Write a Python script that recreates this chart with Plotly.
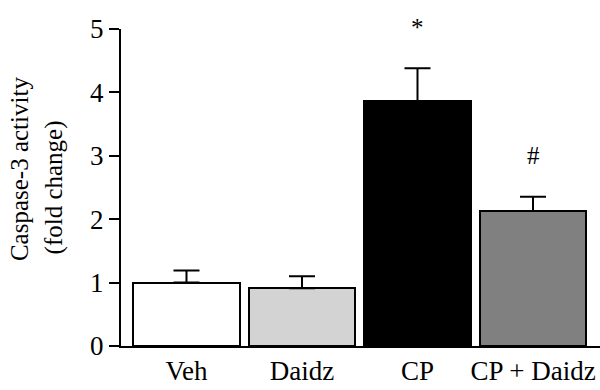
import plotly.graph_objects as go

categories = ["Veh", "Daidz", "CP", "CP + Daidz"]
means = [1.00, 0.91, 3.86, 2.13]
errors = [0.19, 0.19, 0.52, 0.225]
sig_marks = ["", "", "*", "#"]
y_ticks = [0, 1, 2, 3, 4, 5]

bar_colors = ["#ffffff", "#d3d3d3", "#000000", "#808080"]
FONT = "Liberation Serif"

xs = list(range(len(categories)))

fig = go.Figure()
fig.add_trace(go.Bar(
    x=xs, y=means, width=0.925,
    marker=dict(color=bar_colors, line=dict(color="black", width=2)),
    error_y=dict(type="data", symmetric=False, array=errors,
                 arrayminus=[0] * len(errors), color="black",
                 thickness=2, width=13),
    showlegend=False,
))

annotations = []
for x, m, e, s in zip(xs, means, errors, sig_marks):
    if s:
        annotations.append(dict(x=x, y=m + e, xref="x", yref="y", text=s,
                                showarrow=False, yanchor="middle", yshift=41,
                                font=dict(family=FONT, size=25, color="black")))

annotations.append(dict(x=-0.213, y=0.558, xref="paper", yref="paper",
                        text="Caspase-3 activity", textangle=-90, showarrow=False,
                        xanchor="center", yanchor="middle",
                        font=dict(family=FONT, size=25, color="black")))
annotations.append(dict(x=-0.140, y=0.50, xref="paper", yref="paper",
                        text="(fold change)", textangle=-90, showarrow=False,
                        xanchor="center", yanchor="middle",
                        font=dict(family=FONT, size=25, color="black")))

fig.update_layout(
    width=600, height=390,
    margin=dict(l=121, r=0, t=29, b=44),
    paper_bgcolor="white", plot_bgcolor="white",
    font=dict(family=FONT, size=27, color="black"),
    bargap=0,
    annotations=annotations,
    xaxis=dict(range=[-0.567, 3.58], tickvals=xs, ticktext=categories,
               showline=True, linecolor="black", linewidth=2, ticks="",
               showgrid=False, zeroline=False, fixedrange=True,
               tickfont=dict(family=FONT, size=27), automargin=False),
    yaxis=dict(range=[0, 5], tickvals=y_ticks, showline=True, linecolor="black",
               linewidth=2, ticks="outside", ticklen=10, tickwidth=2,
               tickcolor="black", showgrid=False, zeroline=False,
               tickfont=dict(family=FONT, size=27), automargin=False),
)

fig.write_html("out.html", config={"displayModeBar": False},
               post_script="document.body.style.margin='0';")
